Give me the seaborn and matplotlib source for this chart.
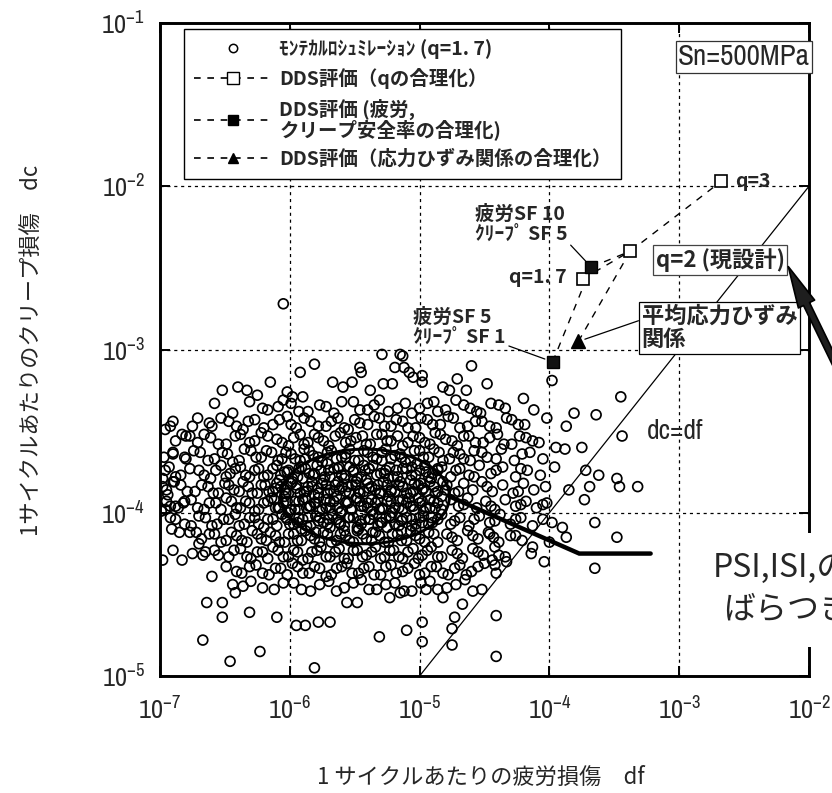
import numpy as np
import pandas as pd
import matplotlib
matplotlib.use("Agg")
import matplotlib.pyplot as plt
import seaborn as sns
from matplotlib import font_manager
from matplotlib.font_manager import FontProperties
from matplotlib.lines import Line2D
from matplotlib.patches import Rectangle, FancyArrowPatch
from matplotlib.ticker import NullLocator

# ---------------------------------------------------------------------------
# Monte Carlo results (q=1.7), stored as (log10 df, log10 dc)
# ---------------------------------------------------------------------------
mc_outer_pts = [
    (-6.05, -2.72),
    (-5.81, -3.09), (-5.92, -3.14), (-5.46, -3.11), (-5.45, -3.14), (-5.29, -3.03),
    (-5.15, -3.03), (-5.19, -3.11), (-5.12, -3.11), (-5.05, -3.17), (-4.98, -3.20),
    (-4.60, -3.10), (-4.48, -3.21), (-6.15, -3.20), (-6.52, -3.25), (-6.40, -3.23),
    (-6.33, -3.25), (-6.25, -3.28), (-5.67, -3.20), (-5.59, -3.23), (-5.52, -3.20),
    (-5.38, -3.25), (-5.28, -3.21), (-5.21, -3.21), (-4.82, -3.23), (-4.77, -3.25),
    (-4.71, -3.18), (-4.64, -3.25), (-6.02, -3.26), (-5.98, -3.29), (-5.90, -3.29),
    (-5.13, -3.04), (-5.08, -3.14), (-4.98, -3.16),
    (-6.90, -3.44), (-6.92, -3.47), (-6.96, -3.49), (-6.75, -3.47), (-6.83, -3.52),
    (-6.77, -3.53), (-6.90, -3.63), (-6.81, -3.66), (-6.98, -3.79), (-6.90, -3.81),
    (-6.96, -3.98), (-6.88, -3.96), (-6.82, -3.94), (-6.91, -4.10), (-6.85, -4.12),
    (-6.77, -4.12), (-6.72, -4.12), (-6.98, -4.29), (-6.90, -4.23), (-6.83, -4.29),
    (-6.75, -4.25), (-6.67, -4.26),
    (-6.64, -4.55), (-6.52, -4.55), (-6.52, -4.64), (-6.31, -4.61), (-6.10, -4.64),
    (-6.44, -4.44), (-6.67, -4.78), (-6.23, -4.85), (-6.46, -4.91), (-5.81, -4.95),
    (-5.95, -4.69), (-5.88, -4.69), (-5.31, -4.76), (-5.10, -4.72), (-4.98, -4.67),
    (-4.98, -4.79), (-4.75, -4.71), (-4.75, -4.81), (-4.67, -4.56), (-4.73, -4.64),
    (-4.41, -4.63), (-4.41, -4.88), (-5.78, -4.67), (-5.69, -4.67), (-5.56, -4.55),
    (-5.48, -4.55), (-5.23, -4.52), (-5.15, -4.49), (-4.95, -4.47), (-4.82, -4.52),
    (-3.98, -3.19), (-3.45, -3.29), (-3.81, -3.39), (-3.64, -3.40), (-3.87, -3.47),
    (-3.75, -3.60), (-3.44, -3.53), (-3.88, -3.61), (-3.95, -3.60), (-3.72, -3.74),
    (-3.62, -3.77), (-3.48, -3.79), (-3.46, -3.84), (-3.32, -3.84), (-3.69, -3.84),
    (-3.85, -3.86), (-3.73, -3.92), (-3.65, -4.06), (-3.48, -4.15), (-3.65, -4.34),
    (-3.90, -4.09), (-3.87, -4.15), (-3.98, -4.06), (-4.04, -4.30), (-4.13, -4.21),
    (-4.14, -4.25), (-4.33, -4.30), (-4.44, -4.29), (-4.42, -4.32), (-4.46, -4.13),
    (-4.02, -3.42), (-3.96, -3.72), (-4.05, -3.95), (-4.00, -4.18), (-4.20, -3.30),
    (-4.12, -3.37),
]

mc_body_pts = [
    (-6.58, -3.33), (-6.21, -3.36), (-6.05, -3.31), (-5.93, -3.38), (-5.77, -3.34),
    (-5.66, -3.39), (-5.51, -3.32), (-5.40, -3.37), (-5.31, -3.31), (-5.17, -3.36),
    (-5.06, -3.39), (-4.94, -3.33), (-4.86, -3.38), (-4.72, -3.31), (-4.61, -3.36),
    (-4.53, -3.39), (-4.39, -3.34), (-6.44, -3.39),
    (-6.71, -3.42), (-6.60, -3.47), (-6.47, -3.44), (-6.36, -3.49), (-6.27, -3.43),
    (-6.13, -3.46), (-6.02, -3.41), (-5.95, -3.48), (-5.84, -3.44), (-5.72, -3.47),
    (-5.63, -3.42), (-5.55, -3.49), (-5.46, -3.45), (-5.35, -3.41), (-5.27, -3.47),
    (-5.18, -3.43), (-5.09, -3.48), (-4.99, -3.42), (-4.90, -3.46), (-4.78, -3.41),
    (-4.69, -3.48), (-4.57, -3.44), (-4.46, -3.47), (-4.33, -3.42), (-4.24, -3.46),
    (-6.88, -3.56), (-6.66, -3.52), (-6.55, -3.58), (-6.42, -3.53), (-6.31, -3.57),
    (-6.22, -3.51), (-6.10, -3.55), (-6.01, -3.59), (-5.92, -3.52), (-5.86, -3.57),
    (-5.78, -3.54), (-5.70, -3.59), (-5.61, -3.51), (-5.53, -3.56), (-5.44, -3.53),
    (-5.38, -3.58), (-5.29, -3.52), (-5.22, -3.56), (-5.13, -3.59), (-5.05, -3.53),
    (-4.96, -3.57), (-4.88, -3.51), (-4.80, -3.55), (-4.71, -3.59), (-4.62, -3.53),
    (-4.51, -3.57), (-4.40, -3.52), (-4.29, -3.58), (-4.18, -3.54), (-4.08, -3.57),
    (-6.97, -3.66), (-6.74, -3.62), (-6.63, -3.68), (-6.52, -3.63), (-6.44, -3.69),
    (-6.35, -3.61), (-6.26, -3.66), (-6.18, -3.62), (-6.09, -3.68), (-6.03, -3.63),
    (-5.96, -3.67), (-5.89, -3.61), (-5.82, -3.65), (-5.75, -3.69), (-5.68, -3.62),
    (-5.60, -3.66), (-5.54, -3.61), (-5.47, -3.68), (-5.40, -3.63), (-5.33, -3.67),
    (-5.26, -3.61), (-5.19, -3.65), (-5.11, -3.69), (-5.04, -3.62), (-4.97, -3.66),
    (-4.89, -3.61), (-4.82, -3.68), (-4.74, -3.63), (-4.66, -3.67), (-4.58, -3.62),
    (-4.48, -3.66), (-4.37, -3.61), (-4.27, -3.68), (-4.15, -3.63), (-4.05, -3.67),
    (-6.93, -3.72), (-6.84, -3.77), (-6.70, -3.74), (-6.61, -3.79), (-6.53, -3.71),
    (-6.46, -3.76), (-6.38, -3.72), (-6.31, -3.78), (-6.24, -3.73), (-6.17, -3.77),
    (-6.10, -3.71), (-6.04, -3.75), (-5.98, -3.79), (-5.91, -3.72), (-5.85, -3.76),
    (-5.79, -3.71), (-5.73, -3.78), (-5.66, -3.73), (-5.60, -3.77), (-5.54, -3.72),
    (-5.48, -3.79), (-5.42, -3.74), (-5.36, -3.71), (-5.30, -3.76), (-5.23, -3.72),
    (-5.17, -3.78), (-5.10, -3.73), (-5.03, -3.77), (-4.96, -3.71), (-4.90, -3.76),
    (-4.83, -3.72), (-4.76, -3.78), (-4.69, -3.73), (-4.62, -3.77), (-4.54, -3.71),
    (-4.45, -3.76), (-4.36, -3.72), (-4.26, -3.78), (-4.17, -3.74), (-4.07, -3.77),
    (-6.98, -3.84), (-6.89, -3.81), (-6.79, -3.87), (-6.68, -3.83), (-6.59, -3.88),
    (-6.50, -3.82), (-6.43, -3.86), (-6.36, -3.81), (-6.29, -3.88), (-6.22, -3.83),
    (-6.16, -3.87), (-6.10, -3.82), (-6.04, -3.86), (-5.98, -3.81), (-5.92, -3.88),
    (-5.86, -3.84), (-5.81, -3.89), (-5.75, -3.82), (-5.69, -3.86), (-5.63, -3.81),
    (-5.57, -3.87), (-5.52, -3.83), (-5.46, -3.88), (-5.40, -3.82), (-5.34, -3.86),
    (-5.28, -3.81), (-5.22, -3.87), (-5.16, -3.83), (-5.10, -3.88), (-5.04, -3.82),
    (-4.98, -3.86), (-4.92, -3.81), (-4.86, -3.87), (-4.79, -3.83), (-4.73, -3.88),
    (-4.66, -3.82), (-4.59, -3.86), (-4.52, -3.81), (-4.44, -3.87), (-4.36, -3.83),
    (-4.28, -3.88), (-4.20, -3.82), (-4.12, -3.86), (-4.03, -3.84), (-6.94, -3.89),
    (-6.95, -3.93), (-6.86, -3.97), (-6.76, -3.92), (-6.66, -3.98), (-6.57, -3.94),
    (-6.49, -3.91), (-6.41, -3.97), (-6.34, -3.93), (-6.27, -3.99), (-6.20, -3.94),
    (-6.14, -3.91), (-6.08, -3.97), (-6.02, -3.93), (-5.96, -3.98), (-5.90, -3.92),
    (-5.84, -3.96), (-5.78, -3.91), (-5.72, -3.97), (-5.66, -3.93), (-5.60, -3.99),
    (-5.55, -3.94), (-5.49, -3.91), (-5.43, -3.96), (-5.37, -3.92), (-5.31, -3.98),
    (-5.25, -3.93), (-5.19, -3.97), (-5.13, -3.92), (-5.07, -3.96), (-5.01, -3.91),
    (-4.95, -3.97), (-4.89, -3.93), (-4.83, -3.98), (-4.76, -3.92), (-4.70, -3.96),
    (-4.63, -3.91), (-4.56, -3.97), (-4.49, -3.93), (-4.42, -3.98), (-4.34, -3.92),
    (-4.26, -3.96), (-4.18, -3.93), (-4.10, -3.97), (-4.02, -3.94), (-6.99, -3.99),
    (-6.92, -4.03), (-6.81, -4.07), (-6.70, -4.02), (-6.60, -4.08), (-6.51, -4.04),
    (-6.42, -4.01), (-6.35, -4.07), (-6.27, -4.03), (-6.20, -4.09), (-6.13, -4.04),
    (-6.06, -4.01), (-6.00, -4.07), (-5.93, -4.03), (-5.87, -4.08), (-5.80, -4.02),
    (-5.74, -4.06), (-5.67, -4.01), (-5.61, -4.07), (-5.55, -4.03), (-5.48, -4.09),
    (-5.42, -4.04), (-5.36, -4.01), (-5.29, -4.06), (-5.23, -4.02), (-5.16, -4.08),
    (-5.10, -4.03), (-5.03, -4.07), (-4.97, -4.02), (-4.90, -4.06), (-4.83, -4.01),
    (-4.76, -4.07), (-4.69, -4.03), (-4.62, -4.08), (-4.54, -4.02), (-4.46, -4.06),
    (-4.38, -4.01), (-4.30, -4.07), (-4.22, -4.03), (-4.13, -4.08), (-4.05, -4.04),
    (-6.62, -4.13), (-6.53, -4.18), (-6.45, -4.12), (-6.37, -4.17), (-6.29, -4.11),
    (-6.22, -4.16), (-6.15, -4.12), (-6.08, -4.18), (-6.01, -4.13), (-5.94, -4.17),
    (-5.88, -4.11), (-5.81, -4.16), (-5.74, -4.12), (-5.68, -4.18), (-5.61, -4.13),
    (-5.54, -4.17), (-5.48, -4.11), (-5.41, -4.16), (-5.34, -4.12), (-5.27, -4.18),
    (-5.21, -4.13), (-5.14, -4.17), (-5.07, -4.11), (-5.00, -4.16), (-4.93, -4.12),
    (-4.86, -4.18), (-4.79, -4.13), (-4.71, -4.17), (-4.63, -4.11), (-4.55, -4.16),
    (-4.47, -4.12), (-4.39, -4.18), (-4.30, -4.14), (-4.21, -4.17), (-6.70, -4.19),
    (-6.58, -4.23), (-6.47, -4.27), (-6.38, -4.22), (-6.30, -4.28), (-6.21, -4.24),
    (-6.13, -4.21), (-6.05, -4.27), (-5.97, -4.23), (-5.90, -4.29), (-5.83, -4.24),
    (-5.76, -4.21), (-5.69, -4.27), (-5.62, -4.22), (-5.55, -4.28), (-5.48, -4.23),
    (-5.41, -4.26), (-5.34, -4.21), (-5.27, -4.27), (-5.20, -4.23), (-5.13, -4.28),
    (-5.05, -4.22), (-4.98, -4.26), (-4.91, -4.21), (-4.83, -4.27), (-4.75, -4.23),
    (-4.67, -4.28), (-4.59, -4.22), (-4.51, -4.26), (-4.42, -4.21), (-4.34, -4.27),
    (-6.49, -4.33), (-6.37, -4.37), (-6.26, -4.32), (-6.16, -4.38), (-6.07, -4.34),
    (-5.98, -4.31), (-5.90, -4.37), (-5.81, -4.33), (-5.72, -4.39), (-5.64, -4.34),
    (-5.56, -4.31), (-5.47, -4.37), (-5.39, -4.33), (-5.30, -4.38), (-5.22, -4.32),
    (-5.13, -4.36), (-5.04, -4.31), (-4.96, -4.37), (-4.87, -4.33), (-4.78, -4.38),
    (-4.69, -4.32), (-4.60, -4.36), (-4.50, -4.31), (-4.41, -4.37), (-6.60, -4.39),
    (-6.30, -4.42), (-6.12, -4.47), (-5.97, -4.43), (-5.84, -4.48), (-5.70, -4.42),
    (-5.58, -4.46), (-5.45, -4.41), (-5.33, -4.47), (-5.19, -4.43), (-5.06, -4.48),
    (-4.92, -4.42), (-4.79, -4.46), (-4.65, -4.41), (-4.52, -4.47), (-6.42, -4.49),
]

mc_fill_pts = [
    (-6.31, -3.32), (-6.17, -3.37), (-6.09, -3.35), (-5.99, -3.33), (-5.86, -3.38),
    (-5.72, -3.35), (-5.60, -3.32), (-5.46, -3.37), (-5.35, -3.34), (-5.24, -3.38),
    (-5.11, -3.33), (-5.00, -3.36), (-4.89, -3.32), (-4.80, -3.37), (-4.66, -3.34),
    (-4.56, -3.38), (-4.45, -3.33), (-4.34, -3.36),
    (-6.62, -3.45), (-6.53, -3.42), (-6.41, -3.47), (-6.32, -3.44), (-6.20, -3.48),
    (-6.08, -3.43), (-5.99, -3.46), (-5.89, -3.42), (-5.78, -3.47), (-5.68, -3.44),
    (-5.58, -3.48), (-5.50, -3.43), (-5.40, -3.46), (-5.31, -3.42), (-5.22, -3.47),
    (-5.13, -3.44), (-5.03, -3.48), (-4.94, -3.43), (-4.84, -3.46), (-4.74, -3.42),
    (-4.63, -3.47), (-4.52, -3.44), (-4.41, -3.48), (-4.29, -3.43), (-4.19, -3.46),
    (-6.80, -3.53), (-6.71, -3.57), (-6.61, -3.54), (-6.49, -3.58), (-6.38, -3.52),
    (-6.27, -3.56), (-6.17, -3.53), (-6.06, -3.57), (-5.97, -3.54), (-5.89, -3.58),
    (-5.81, -3.52), (-5.74, -3.56), (-5.65, -3.53), (-5.57, -3.57), (-5.49, -3.54),
    (-5.41, -3.58), (-5.33, -3.52), (-5.25, -3.56), (-5.17, -3.53), (-5.09, -3.57),
    (-5.00, -3.54), (-4.92, -3.58), (-4.84, -3.52), (-4.75, -3.56), (-4.66, -3.53),
    (-4.57, -3.57), (-4.46, -3.54), (-4.35, -3.58), (-4.23, -3.53), (-4.13, -3.56),
    (-6.90, -3.64), (-6.80, -3.67), (-6.69, -3.63), (-6.58, -3.67), (-6.48, -3.64),
    (-6.39, -3.68), (-6.30, -3.62), (-6.22, -3.66), (-6.14, -3.63), (-6.06, -3.67),
    (-5.99, -3.64), (-5.92, -3.68), (-5.85, -3.62), (-5.78, -3.66), (-5.71, -3.63),
    (-5.64, -3.67), (-5.57, -3.64), (-5.50, -3.68), (-5.43, -3.62), (-5.36, -3.66),
    (-5.29, -3.63), (-5.22, -3.67), (-5.15, -3.64), (-5.07, -3.68), (-5.00, -3.62),
    (-4.93, -3.66), (-4.85, -3.63), (-4.77, -3.67), (-4.69, -3.64), (-4.61, -3.68),
    (-4.52, -3.63), (-4.41, -3.67), (-4.21, -3.64),
    (-6.96, -3.74), (-6.88, -3.78), (-6.77, -3.73), (-6.66, -3.77), (-6.57, -3.74),
    (-6.49, -3.78), (-6.42, -3.73), (-6.34, -3.77), (-6.27, -3.74), (-6.20, -3.78),
    (-6.13, -3.73), (-6.07, -3.77), (-6.01, -3.74), (-5.94, -3.78), (-5.88, -3.73),
    (-5.82, -3.77), (-5.76, -3.74), (-5.69, -3.78), (-5.63, -3.73), (-5.57, -3.77),
    (-5.51, -3.74), (-5.45, -3.78), (-5.39, -3.73), (-5.33, -3.77), (-5.26, -3.74),
    (-5.20, -3.78), (-5.13, -3.73), (-5.06, -3.77), (-5.00, -3.74), (-4.93, -3.78),
    (-4.86, -3.73), (-4.72, -3.74), (-4.58, -3.78), (-4.41, -3.74), (-4.22, -3.73),
    (-6.95, -3.86), (-6.84, -3.83), (-6.73, -3.87), (-6.63, -3.84), (-6.55, -3.88),
    (-6.47, -3.83), (-6.39, -3.87), (-6.32, -3.84), (-6.25, -3.88), (-6.19, -3.83),
    (-6.13, -3.87), (-6.07, -3.84), (-6.01, -3.88), (-5.95, -3.83), (-5.89, -3.87),
    (-5.83, -3.84), (-5.78, -3.88), (-5.72, -3.83), (-5.66, -3.87), (-5.60, -3.84),
    (-5.54, -3.88), (-5.49, -3.83), (-5.43, -3.87), (-5.37, -3.84), (-5.31, -3.88),
    (-5.25, -3.83), (-5.19, -3.87), (-5.13, -3.84), (-5.07, -3.88), (-5.01, -3.83),
    (-4.95, -3.87), (-4.89, -3.84), (-4.70, -3.87), (-4.48, -3.84), (-4.24, -3.87),
    (-6.92, -3.96), (-6.81, -3.93), (-6.71, -3.97), (-6.62, -3.94), (-6.53, -3.98),
    (-6.45, -3.93), (-6.38, -3.97), (-6.31, -3.94), (-6.24, -3.98), (-6.17, -3.93),
    (-6.11, -3.97), (-6.05, -3.94), (-5.99, -3.98), (-5.93, -3.93), (-5.87, -3.97),
    (-5.81, -3.94), (-5.75, -3.98), (-5.69, -3.93), (-5.63, -3.97), (-5.57, -3.94),
    (-5.52, -3.98), (-5.46, -3.93), (-5.40, -3.97), (-5.34, -3.94), (-5.28, -3.98),
    (-5.22, -3.93), (-5.16, -3.97), (-5.10, -3.94), (-5.04, -3.98), (-4.98, -3.93),
    (-4.92, -3.97), (-4.86, -3.94), (-4.66, -3.95), (-4.45, -3.96), (-4.22, -3.95),
    (-6.88, -4.04), (-6.76, -4.08), (-6.65, -4.03), (-6.56, -4.07), (-6.47, -4.04),
    (-6.39, -4.08), (-6.31, -4.03), (-6.24, -4.07), (-6.17, -4.04), (-6.10, -4.08),
    (-6.03, -4.03), (-5.97, -4.07), (-5.90, -4.04), (-5.84, -4.08), (-5.77, -4.03),
    (-5.71, -4.07), (-5.64, -4.04), (-5.58, -4.08), (-5.51, -4.03), (-5.45, -4.07),
    (-5.39, -4.04), (-5.32, -4.08), (-5.26, -4.03), (-5.19, -4.07), (-5.13, -4.04),
    (-5.06, -4.08), (-5.00, -4.03), (-4.93, -4.07), (-4.86, -4.04), (-4.73, -4.05),
    (-4.58, -4.04), (-4.42, -4.05), (-4.26, -4.04),
    (-6.68, -4.16), (-6.58, -4.13), (-6.49, -4.17), (-6.41, -4.14), (-6.33, -4.18),
    (-6.25, -4.13), (-6.18, -4.17), (-6.11, -4.14), (-6.04, -4.18), (-5.97, -4.13),
    (-5.91, -4.17), (-5.84, -4.14), (-5.77, -4.18), (-5.71, -4.13), (-5.64, -4.17),
    (-5.57, -4.14), (-5.51, -4.18), (-5.44, -4.13), (-5.37, -4.17), (-5.31, -4.14),
    (-5.24, -4.18), (-5.17, -4.13), (-5.10, -4.17), (-5.03, -4.14), (-4.96, -4.18),
    (-4.89, -4.13), (-4.75, -4.15), (-4.59, -4.14), (-4.43, -4.15), (-4.26, -4.14),
    (-6.55, -4.26), (-6.43, -4.23), (-6.33, -4.27), (-6.25, -4.24), (-6.17, -4.28),
    (-6.09, -4.23), (-6.01, -4.27), (-5.94, -4.24), (-5.86, -4.28), (-5.79, -4.23),
    (-5.72, -4.27), (-5.65, -4.24), (-5.58, -4.28), (-5.51, -4.23), (-5.44, -4.27),
    (-5.37, -4.24), (-5.30, -4.28), (-5.23, -4.23), (-5.16, -4.27), (-5.09, -4.24),
    (-5.01, -4.28), (-4.94, -4.23), (-4.86, -4.27), (-4.71, -4.25), (-4.55, -4.24),
    (-4.39, -4.26), (-6.65, -4.24),
    (-6.41, -4.36), (-6.31, -4.33), (-6.21, -4.37), (-6.11, -4.34), (-6.02, -4.38),
    (-5.94, -4.33), (-5.85, -4.37), (-5.77, -4.34), (-5.68, -4.38), (-5.60, -4.33),
    (-5.52, -4.37), (-5.43, -4.34), (-5.35, -4.38), (-5.26, -4.33), (-5.18, -4.37),
    (-5.09, -4.34), (-5.00, -4.38), (-4.91, -4.33), (-4.82, -4.37), (-4.73, -4.34),
    (-4.64, -4.38), (-4.55, -4.33),
    (-6.21, -4.46), (-6.05, -4.43), (-5.91, -4.47), (-5.77, -4.44), (-5.64, -4.48),
    (-5.51, -4.43), (-5.39, -4.47), (-5.26, -4.44), (-5.12, -4.48), (-4.99, -4.43),
    (-4.86, -4.47), (-4.72, -4.44), (-4.59, -4.48), (-6.36, -4.45),
]

mc_core_pts = [
    (-5.88, -3.67), (-5.71, -3.70), (-5.57, -3.66), (-5.43, -3.71), (-5.29, -3.68),
    (-5.14, -3.66), (-5.02, -3.70),
    (-6.02, -3.75), (-5.93, -3.73), (-5.81, -3.76), (-5.70, -3.74), (-5.62, -3.72),
    (-5.51, -3.75), (-5.39, -3.73), (-5.27, -3.76), (-5.18, -3.74), (-5.06, -3.72),
    (-4.95, -3.75), (-4.86, -3.74),
    (-6.08, -3.80), (-5.99, -3.82), (-5.90, -3.79), (-5.83, -3.81), (-5.74, -3.80),
    (-5.65, -3.83), (-5.58, -3.79), (-5.49, -3.81), (-5.41, -3.80), (-5.32, -3.83),
    (-5.24, -3.79), (-5.15, -3.81), (-5.07, -3.80), (-4.99, -3.82), (-4.91, -3.79),
    (-4.82, -3.81),
    (-6.11, -3.85), (-6.03, -3.88), (-5.95, -3.85), (-5.87, -3.87), (-5.78, -3.85),
    (-5.71, -3.88), (-5.62, -3.86), (-5.55, -3.84), (-5.47, -3.87), (-5.39, -3.85),
    (-5.30, -3.88), (-5.22, -3.86), (-5.13, -3.84), (-5.05, -3.87), (-4.97, -3.85),
    (-4.88, -3.88), (-4.80, -3.86),
    (-6.12, -3.92), (-6.04, -3.90), (-5.96, -3.93), (-5.88, -3.91), (-5.80, -3.94),
    (-5.72, -3.92), (-5.64, -3.90), (-5.56, -3.93), (-5.48, -3.91), (-5.40, -3.94),
    (-5.32, -3.92), (-5.24, -3.90), (-5.16, -3.93), (-5.08, -3.91), (-5.00, -3.94),
    (-4.92, -3.92), (-4.83, -3.90),
    (-6.09, -3.97), (-6.01, -4.00), (-5.93, -3.98), (-5.85, -3.96), (-5.77, -3.99),
    (-5.69, -3.97), (-5.61, -4.00), (-5.53, -3.98), (-5.45, -3.96), (-5.37, -3.99),
    (-5.29, -3.97), (-5.21, -4.00), (-5.13, -3.98), (-5.05, -3.96), (-4.97, -3.99),
    (-4.88, -3.97),
    (-6.02, -4.04), (-5.94, -4.06), (-5.86, -4.03), (-5.78, -4.05), (-5.70, -4.04),
    (-5.62, -4.06), (-5.54, -4.03), (-5.46, -4.05), (-5.38, -4.04), (-5.30, -4.06),
    (-5.22, -4.03), (-5.14, -4.05), (-5.06, -4.04), (-4.98, -4.06), (-4.91, -4.03),
    (-5.91, -4.10), (-5.80, -4.12), (-5.69, -4.09), (-5.58, -4.11), (-5.47, -4.10),
    (-5.36, -4.12), (-5.25, -4.09), (-5.14, -4.11), (-5.03, -4.10),
]

# ---------------------------------------------------------------------------
# DDS evaluations
# ---------------------------------------------------------------------------
q_labels = ["q=1.7", "q=2", "q=3"]
q_df = [1.8e-4, 4.2e-4, 2.1e-3]
q_dc = [2.7e-3, 4.0e-3, 1.07e-2]

sf_df = [1.06e-4, 2.1e-4]          # fatigue SF 5 / creep SF 1, fatigue SF 10 / creep SF 5
sf_dc = [8.4e-4, 3.2e-3]

ms_df = [1.67e-4]                  # mean stress-strain relation
ms_dc = [1.12e-3]

equal_line = [1e-5, 1e-2]          # dc = df

# scatter band (log10 centre, log10 half-widths) and its leader line
band_center = (-5.42, -3.90)
band_half = (0.65, 0.29)
leader_log_df = [-4.77, -3.77, -3.22]
leader_log_dc = [-3.90, -4.25, -4.25]

x_ticks = [1e-7, 1e-6, 1e-5, 1e-4, 1e-3, 1e-2]
y_ticks = [1e-5, 1e-4, 1e-3, 1e-2, 1e-1]
x_tick_labels = [r"$\mathdefault{10^{-7}}$", r"$\mathdefault{10^{-6}}$", r"$\mathdefault{10^{-5}}$",
                 r"$\mathdefault{10^{-4}}$", r"$\mathdefault{10^{-3}}$", r"$\mathdefault{10^{-2}}$"]
y_tick_labels = [r"$\mathdefault{10^{-5}}$", r"$\mathdefault{10^{-4}}$", r"$\mathdefault{10^{-3}}$",
                 r"$\mathdefault{10^{-2}}$", r"$\mathdefault{10^{-1}}$"]

legend_labels = [
    "ﾓﾝﾃｶﾙﾛｼｭﾐﾚｰｼｮﾝ (q=1. 7)",
    "DDS評価（qの合理化）",
    "DDS評価 (疲労,\nクリープ安全率の合理化)",
    "DDS評価（応力ひずみ関係の合理化）",
]

# ---------------------------------------------------------------------------
sns.set_style("ticks")
JP = ["Noto Sans CJK JP", "DejaVu Sans"]
plt.rcParams["font.family"] = JP
plt.rcParams["axes.unicode_minus"] = True


def narrow_font_file():
    """Pick a narrow/condensed upright regular face for the numeric labels."""
    entries = font_manager.fontManager.ttflist

    def regular(f):
        return f.style == "normal" and f.weight in (400, "normal", "regular", "book")

    for f in entries:
        if f.name == "Liberation Sans Narrow" and regular(f):
            return f.fname
    for f in entries:
        if regular(f) and ("Narrow" in f.name or "Condensed" in f.name):
            return f.fname
    for f in entries:
        if regular(f) and str(f.stretch) in ("condensed", "semi-condensed"):
            return f.fname
    return None


_narrow = narrow_font_file()


def num_font(size):
    if _narrow:
        return FontProperties(fname=_narrow, size=size)
    return FontProperties(family="Noto Sans CJK JP", size=size * 0.88)


fig = plt.figure(figsize=(8.32, 7.93), dpi=100)
ax = fig.add_axes([160 / 832, 1 - 676 / 793, 649 / 832, 653 / 793])
ax.set_facecolor("white")

mc_pts = np.array(mc_outer_pts + mc_body_pts + mc_fill_pts + mc_core_pts)
mc = pd.DataFrame({"df": 10.0 ** mc_pts[:, 0], "dc": 10.0 ** mc_pts[:, 1]})
sns.scatterplot(data=mc, x="df", y="dc", ax=ax, marker="o", s=50,
                facecolor="none", edgecolor="black", linewidth=1.25,
                legend=False, zorder=2)

ax.set_xscale("log")
ax.set_yscale("log")
ax.set_xlim(1e-7, 1e-2)
ax.set_ylim(1e-5, 1e-1)

# grid and ticks
ax.set_xticks(x_ticks)
ax.set_yticks(y_ticks)
ax.xaxis.set_minor_locator(NullLocator())
ax.yaxis.set_minor_locator(NullLocator())
ax.grid(True, which="major", color="black", linestyle=(0, (2.5, 3)), linewidth=0.9)
ax.set_axisbelow(True)
ax.set_xticklabels(x_tick_labels, fontproperties=num_font(19))
ax.set_yticklabels(y_tick_labels, fontproperties=num_font(19))
ax.tick_params(which="major", direction="in", top=True, right=True,
               length=7, width=1.4, color="black")
ax.tick_params(axis="x", pad=15)
ax.tick_params(axis="y", pad=11)
ax.set_xlabel("")
ax.set_ylabel("")
for sp in ax.spines.values():
    sp.set_linewidth(2.1)
    sp.set_color("black")

# dc = df
ax.plot(equal_line, equal_line, color="black", lw=0.9, zorder=3)

# scatter band outline and its leader
t = np.linspace(0, 2 * np.pi, 240)
ax.plot(10 ** (band_center[0] + band_half[0] * np.cos(t)),
        10 ** (band_center[1] + band_half[1] * np.sin(t)),
        color="black", lw=2.2, zorder=4)
ax.plot(10 ** np.array(leader_log_df), 10 ** np.array(leader_log_dc),
        color="black", lw=3.2, solid_joinstyle="miter", zorder=4)

# DDS series
dash = (0, (5, 5))
ax.plot(q_df, q_dc, color="black", lw=1.0, ls=dash, zorder=5)
ax.plot(sf_df, sf_dc, color="black", lw=1.0, ls=dash, zorder=5)
ax.plot([ms_df[0], q_df[1]], [ms_dc[0], q_dc[1]], color="black", lw=1.0, ls=dash, zorder=5)
ax.plot(sf_df[1:] + q_df[1:2], sf_dc[1:] + q_dc[1:2], color="black", lw=1.0, ls=dash, zorder=5)
ax.plot(q_df, q_dc, ls="none", marker="s", ms=8.5, mfc="white", mec="black", mew=1.2, zorder=6)
ax.plot(sf_df, sf_dc, ls="none", marker="s", ms=8.5, mfc="#111111", mec="black", mew=1.0, zorder=6)
ax.plot(ms_df, ms_dc, ls="none", marker="^", ms=10, mfc="black", mec="black", zorder=6)

# annotations
ann_font = dict(family=JP, fontsize=14, fontweight="bold")
ax.annotate("疲労SF 10\nｸﾘｰﾌﾟ SF 5", xy=(sf_df[1], sf_dc[1]),
            xytext=(0.485, 0.692), textcoords="axes fraction",
            ha="left", va="center", linespacing=1.05, zorder=7,
            arrowprops=dict(arrowstyle="-", lw=0.9, color="black",
                            shrinkA=0, shrinkB=6, relpos=(1.0, 0.05)), **ann_font)
ax.annotate("疲労SF 5\nｸﾘｰﾌﾟ SF 1", xy=(sf_df[0], sf_dc[0]),
            xytext=(0.39, 0.534), textcoords="axes fraction",
            ha="left", va="center", linespacing=1.05, zorder=7,
            arrowprops=dict(arrowstyle="-", lw=0.9, color="black",
                            shrinkA=0, shrinkB=6, relpos=(1.0, 0.05)), **ann_font)
ax.text(0.627, 0.611, "q=1. 7", transform=ax.transAxes, ha="right", va="center",
        zorder=7, **ann_font)
ax.annotate("q=3", xy=(q_df[2], q_dc[2]), xytext=(10, 0), textcoords="offset points",
            ha="left", va="center", zorder=7, **ann_font)
ax.text(0.863, 0.637, "q=2 (現設計)", transform=ax.transAxes, ha="center", va="center",
        family=JP, fontsize=16, fontweight="bold", zorder=8,
        bbox=dict(boxstyle="square,pad=0.12", fc="white", ec="#444444", lw=0.9))
ax.annotate("平均応力ひずみ\n関係", xy=(ms_df[0], ms_dc[0]),
            xytext=(0.742, 0.533), textcoords="axes fraction",
            ha="left", va="center", linespacing=1.0,
            family=JP, fontsize=16, fontweight="bold", zorder=8,
            bbox=dict(boxstyle="square,pad=0.12", fc="white", ec="black", lw=0.9),
            arrowprops=dict(arrowstyle="-", lw=0.9, color="black",
                            shrinkA=0, shrinkB=5, relpos=(0.0, 0.68)))
ax.text(0.900, 0.948, "Sn=500MPa", transform=ax.transAxes, ha="center", va="center",
        fontproperties=num_font(21), zorder=8,
        bbox=dict(boxstyle="square,pad=0.08", fc="white", ec="#333333", lw=0.9))
ax.text(0.750, 0.374, "dc=df", transform=ax.transAxes, ha="left", va="center",
        fontproperties=num_font(20), zorder=7)

# legend
handles = [
    Line2D([], [], ls="none", marker="o", ms=6, mfc="none", mec="black", mew=1.1),
    Line2D([], [], ls=(0, (4, 4)), color="black", lw=1.2, marker="s", ms=8,
           mfc="white", mec="black"),
    Line2D([], [], ls=(0, (4, 4)), color="black", lw=1.2, marker="s", ms=7,
           mfc="black", mec="black"),
    Line2D([], [], ls=(0, (4, 4)), color="black", lw=1.2, marker="^", ms=7,
           mfc="black", mec="black"),
]
leg = ax.legend(handles, legend_labels, loc="upper left",
                bbox_to_anchor=(0.037, 0.991), borderaxespad=0,
                frameon=True, fancybox=False, framealpha=1, edgecolor="black",
                borderpad=0.5, labelspacing=0.5, handlelength=4.0,
                handletextpad=0.4, numpoints=1,
                prop=dict(family=JP, size=14, weight="bold"))
leg.get_frame().set_linewidth(1.0)
leg.get_texts()[2].set_linespacing(0.92)
leg.set_zorder(9)

# axis titles
fig.text(481 / 832, 1 - 777 / 793, "1 サイクルあたりの疲労損傷　df",
         ha="center", va="center", fontsize=16, family=JP)
fig.text(32 / 832, 1 - 350 / 793, "1サイクルあたりのクリープ損傷　dc",
         ha="center", va="center", rotation=90, fontsize=16, family=JP)

# pointer arrow toward the current design point
arrow = FancyArrowPatch(posA=(1.035, 0.475), posB=(0.946, 0.667),
                        transform=fig.transFigure,
                        arrowstyle="simple,head_length=1.5,head_width=0.65,tail_width=0.24",
                        mutation_scale=20, fc="#1e1e1e", ec="black", lw=1.2,
                        zorder=10, clip_on=False)
fig.add_artist(arrow)

# PSI/ISI scatter note
fig.add_artist(Rectangle((700 / 832, 1 - 647 / 793), 132 / 832, 114 / 793,
                         transform=fig.transFigure, fc="white", ec="none", zorder=9))
fig.text(713 / 832, 1 - 568 / 793, "PSI,ISI,の", ha="left", va="center",
         fontsize=23, family=JP, zorder=11)
fig.text(723 / 832, 1 - 610 / 793, "ばらつき", ha="left", va="center",
         fontsize=23, family=JP, zorder=11)

fig.savefig("out.png", dpi=100, facecolor="white")
